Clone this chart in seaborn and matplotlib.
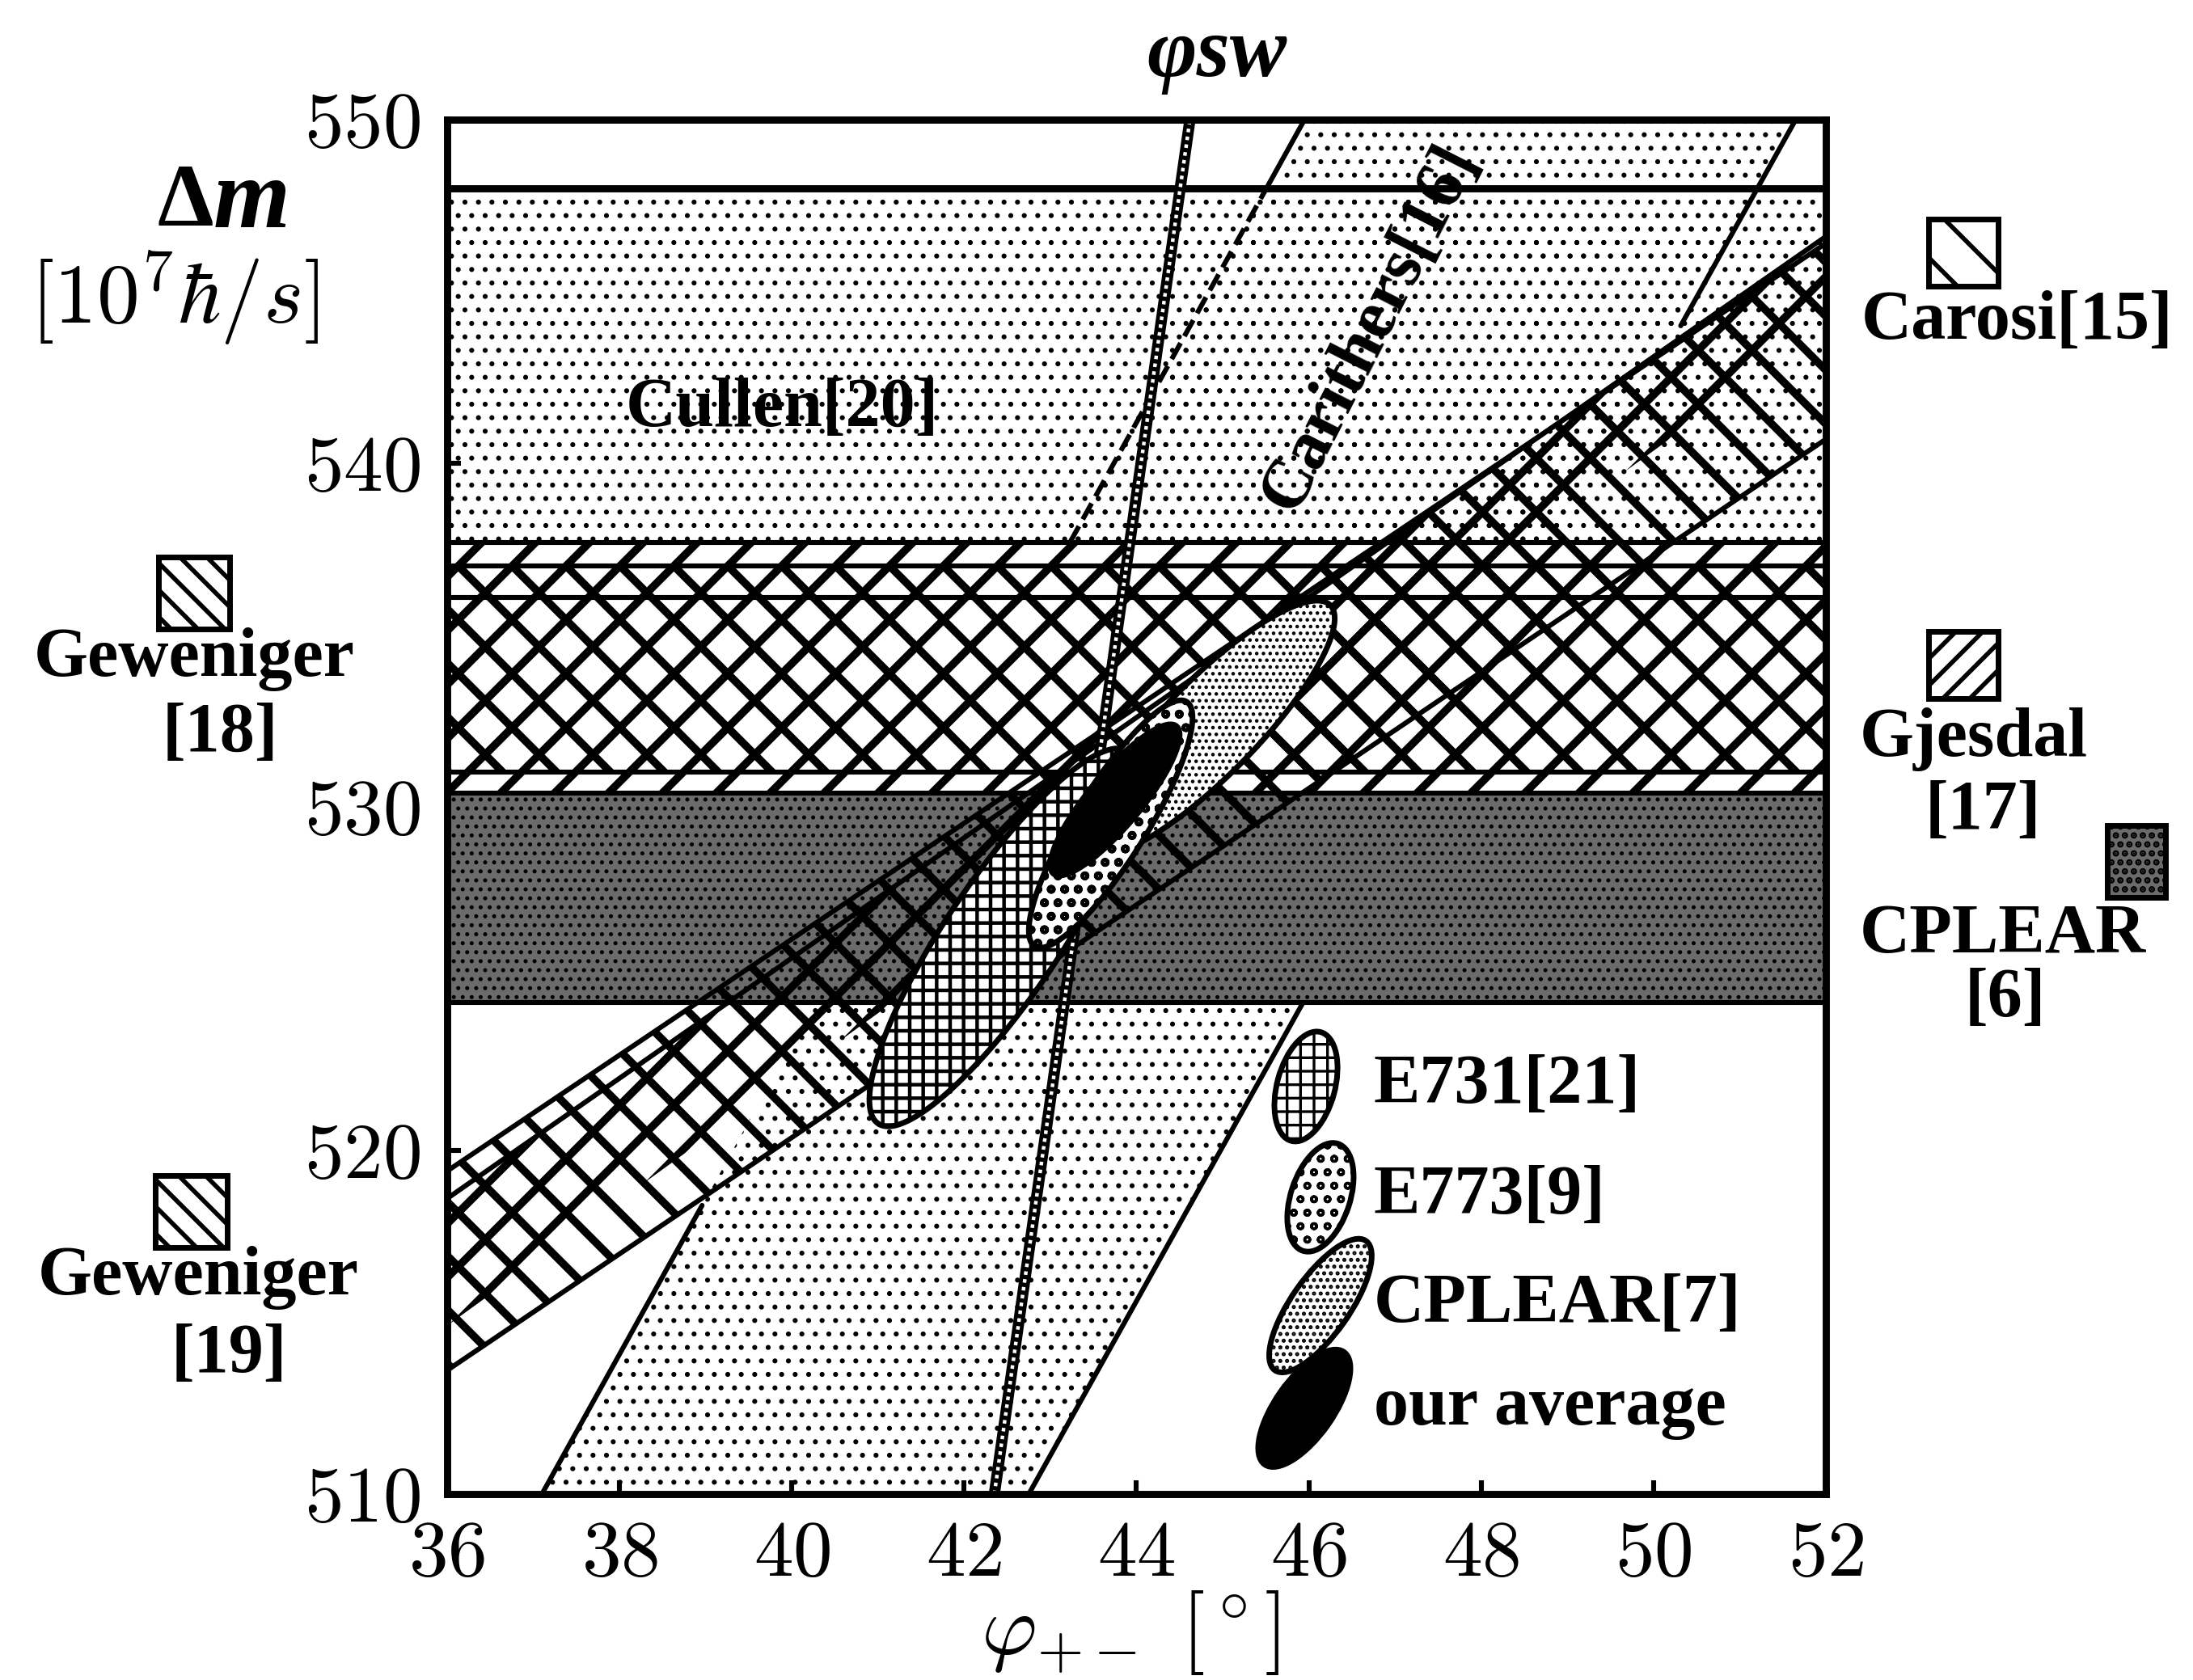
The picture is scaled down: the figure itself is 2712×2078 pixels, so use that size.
import numpy as np
import matplotlib.pyplot as plt
import seaborn as sns
from matplotlib.patches import Ellipse, Rectangle

# ---- values ----
phi_ticks = [36, 38, 40, 42, 44, 46, 48, 50, 52]
dm_ticks = [510, 520, 530, 540, 550]

# horizontal bands: delta m range [1e7 hbar/s]
cullen_dm = [536.1, 548.0]
gjesdal_dm = [530.4, 537.7]
geweniger18_dm = [531.0, 537.0]
cplear6_dm = [524.3, 530.4]

# diagonal bands: delta m of lower / upper edge at phi = 36 and phi = 52
diag_phi = [36, 52]
carosi_lo = [513.6, 540.7]
carosi_hi = [519.4, 546.4]
geweniger19_lo = [514.9, 544.0]
geweniger19_hi = [518.6, 546.6]

# Carithers band: phi of left / right edge at dm = 510 and dm = 550
steep_dm = [510, 550]
carithers_left = [37.1, 45.95]
carithers_right = [42.75, 51.65]
# phi_SW line
phi_sw = [42.35, 44.62]

# error ellipses: phi centre, sigma phi, dm centre, sigma dm, correlation
e731 = (42.45, 1.55, 526.2, 5.5, 0.86)
e773 = (43.7, 0.95, 529.5, 3.6, 0.86)
cplear7 = (44.85, 1.45, 532.3, 3.7, 0.86)
average = (43.75, 0.75, 530.2, 2.2, 0.86)


def ellipse_xy(cx, sx, cy, sy, rho, n=240):
    t = np.linspace(0, 2 * np.pi, n)
    x = cx + sx * np.cos(t)
    y = cy + sy * (rho * np.cos(t) + np.sqrt(1 - rho ** 2) * np.sin(t))
    return x, y


def set_hlw(p, lw):
    if hasattr(p, 'set_hatch_linewidth'):
        p.set_hatch_linewidth(lw)


sns.set_theme(style='ticks')
plt.rcParams['font.family'] = ['Liberation Serif', 'DejaVu Serif']
plt.rcParams['mathtext.fontset'] = 'cm'
plt.rcParams['hatch.color'] = 'black'
plt.rcParams['hatch.linewidth'] = 2.5
plt.rcParams['text.color'] = 'black'
plt.rcParams['xtick.color'] = 'black'
plt.rcParams['ytick.color'] = 'black'

fig = plt.figure(figsize=(13.56, 10.39), dpi=200)
ax = fig.add_axes([0.2039, 0.1107, 0.6287, 0.8181])
ax.set_facecolor('white')

# light dotted bands
p = ax.fill_between(diag_phi, cullen_dm[0], cullen_dm[1], facecolor='none',
                    edgecolor='black', hatch='..', lw=0, zorder=1)
set_hlw(p, 1.0)
p = ax.fill_betweenx(steep_dm, carithers_left, carithers_right, facecolor='none',
                     edgecolor='black', hatch='..', lw=0, zorder=1)
set_hlw(p, 1.0)

# horizontal bands
p = ax.fill_between(diag_phi, gjesdal_dm[0], gjesdal_dm[1], facecolor='white',
                    edgecolor='black', hatch='/', lw=0, zorder=2)
set_hlw(p, 3.5)
p = ax.fill_between(diag_phi, geweniger18_dm[0], geweniger18_dm[1], facecolor='none',
                    edgecolor='black', hatch='\\', lw=0, zorder=2.1)
set_hlw(p, 3.5)
p = ax.fill_between(diag_phi, cplear6_dm[0], cplear6_dm[1], facecolor='0.42',
                    edgecolor='black', hatch='...', lw=0, zorder=2.2)
set_hlw(p, 1.0)

# diagonal bands
p = ax.fill_between(diag_phi, carosi_lo, carosi_hi, facecolor='none',
                    edgecolor='black', hatch='\\', lw=0, zorder=3)
set_hlw(p, 3.5)
p = ax.fill_between(diag_phi, geweniger19_lo, geweniger19_hi, facecolor='none',
                    edgecolor='black', hatch='/', lw=0, zorder=3.1)
set_hlw(p, 3.5)

# band edges
for v in [cullen_dm[0], gjesdal_dm[0], gjesdal_dm[1], geweniger18_dm[0],
          geweniger18_dm[1], cplear6_dm[0]]:
    ax.axhline(v, color='black', lw=2.2, zorder=4)
ax.axhline(cullen_dm[1], color='black', lw=3.2, zorder=4)
for edge in [carosi_lo, carosi_hi, geweniger19_hi]:
    sns.lineplot(x=diag_phi, y=edge, ax=ax, color='black', lw=2.2, sort=False,
                 zorder=4)

# Carithers edges, visible pieces only
left_pieces = [(510, 518.4, '-'), (537.7, 548, '--'), (548, 550, '-')]
right_pieces = [(510, 524.3, '-'), (544.0, 550, '-')]
for edge, pieces in [(carithers_left, left_pieces), (carithers_right, right_pieces)]:
    for y0, y1, ls in pieces:
        ys = [y0, y1]
        xs = np.interp(ys, steep_dm, edge)
        sns.lineplot(x=xs, y=ys, ax=ax, color='black', lw=2.2, ls=ls,
                     sort=False, zorder=4)

# phi_SW line (beaded)
sns.lineplot(x=phi_sw, y=steep_dm, ax=ax, color='black', lw=5, sort=False, zorder=4.2)
sns.lineplot(x=phi_sw, y=steep_dm, ax=ax, color='white', lw=1.6, ls=(0, (1, 1.2)),
             sort=False, zorder=4.3)

# ellipses (drawn bottom to top)
for pars, hatch, fc, hl in [(e731, '++', 'white', 1.6), (cplear7, '....', 'white', 1.0),
                            (e773, 'oo', 'white', 1.6), (average, None, 'black', 1)]:
    ex, ey = ellipse_xy(*pars)
    p = ax.fill(ex, ey, facecolor=fc, edgecolor='black', hatch=hatch, lw=2.5,
                zorder=5)[0]
    set_hlw(p, hl)

# legend inside axes
leg_items = [('E731[21]', '++', 'white', 0.6229, 0.2965, 0.082, 0.042, 75),
             ('E773[9]', 'oo', 'white', 0.6334, 0.2159, 0.082, 0.043, 72),
             ('CPLEAR[7]', '....', 'white', 0.6334, 0.1371, 0.115, 0.042, 55),
             ('our average', None, 'black', 0.6217, 0.0624, 0.100, 0.042, 55)]
for lab, hatch, fc, fx, fy, w, h, ang in leg_items:
    e = Ellipse((fx, fy), w, h, angle=ang, transform=ax.transAxes, facecolor=fc,
                edgecolor='black', hatch=hatch, lw=2.5, zorder=6)
    ax.add_patch(e)
    set_hlw(e, 1.2)
    ax.text(0.672, fy, lab, transform=ax.transAxes, fontsize=31, fontweight='bold',
            va='center', ha='left', zorder=6)

ax.text(0.2428, 0.7888, 'Cullen[20]', transform=ax.transAxes, fontsize=31,
        fontweight='bold', ha='center', va='center', zorder=6)
ax.text(0.6698, 0.8482, 'Carithers[16]', transform=ax.transAxes, fontsize=31,
        fontweight='bold', ha='center', va='center', rotation=63, zorder=6)

# side swatches
swatches = [((-0.2094, 0.6294), 0.0516, 0.0524, '\\\\', 'white'),
            ((-0.2117, 0.1794), 0.0522, 0.0524, '\\\\', 'white'),
            ((1.0745, 0.8788), 0.0504, 0.0488, '\\', 'white'),
            ((1.0745, 0.5788), 0.0504, 0.0488, '//', 'white'),
            ((1.2041, 0.4341), 0.0422, 0.0524, '...', '0.42')]
for xy, w, h, hatch, fc in swatches:
    r = Rectangle(xy, w, h, transform=ax.transAxes, facecolor=fc, edgecolor='black',
                  hatch=hatch, lw=2.5, clip_on=False)
    ax.add_patch(r)
    set_hlw(r, 2.0)

side_texts = [('Geweniger', -0.1836, 0.6076), ('[18]', -0.1648, 0.5524),
              ('Geweniger', -0.1806, 0.1576), ('[19]', -0.1584, 0.1006),
              ('Carosi[15]', 1.139, 0.8529), ('Gjesdal', 1.1073, 0.5488),
              ('[17]', 1.1138, 0.4959), ('CPLEAR', 1.1284, 0.4059),
              ('[6]', 1.1302, 0.3594)]
for s, fx, fy in side_texts:
    ax.text(fx, fy, s, transform=ax.transAxes, fontsize=31, fontweight='bold',
            ha='center', va='center', clip_on=False)

# axis labels
ax.text(-0.19, 0.9388, 'Δ', transform=ax.transAxes, fontsize=40,
        fontweight='bold', ha='center', va='center')
ax.text(-0.142, 0.9388, 'm', transform=ax.transAxes, fontsize=44,
        fontweight='bold', fontstyle='italic', ha='center', va='center')
ax.text(-0.1977, 0.8706, r'$[10^7\hbar/s]$', transform=ax.transAxes,
        fontsize=38, ha='center', va='center')
ax.text(0.5584, 1.047, 'φsw', transform=ax.transAxes, fontsize=38,
        fontweight='bold', fontstyle='italic', ha='center', va='center')
ax.text(0.4956, -0.101, r'$\varphi_{+-}\ [^\circ]$', transform=ax.transAxes,
        fontsize=38, ha='center', va='center')

# axes
ax.set_xlim(phi_ticks[0], phi_ticks[-1])
ax.set_ylim(dm_ticks[0], dm_ticks[-1])
ax.set_xticks(phi_ticks)
ax.set_yticks(dm_ticks)
ax.set_xticklabels([rf'${t}$' for t in phi_ticks])
ax.set_yticklabels([rf'${t}$' for t in dm_ticks])
ax.tick_params(direction='in', length=6, width=2.2, labelsize=35, pad=12,
               colors='black', top=False, right=False)
ax.set_xlabel('')
ax.set_ylabel('')
for sp in ax.spines.values():
    sp.set_linewidth(3.2)
    sp.set_color('black')
    sp.set_zorder(10)

fig.savefig('out.png', dpi=200, facecolor='white')
